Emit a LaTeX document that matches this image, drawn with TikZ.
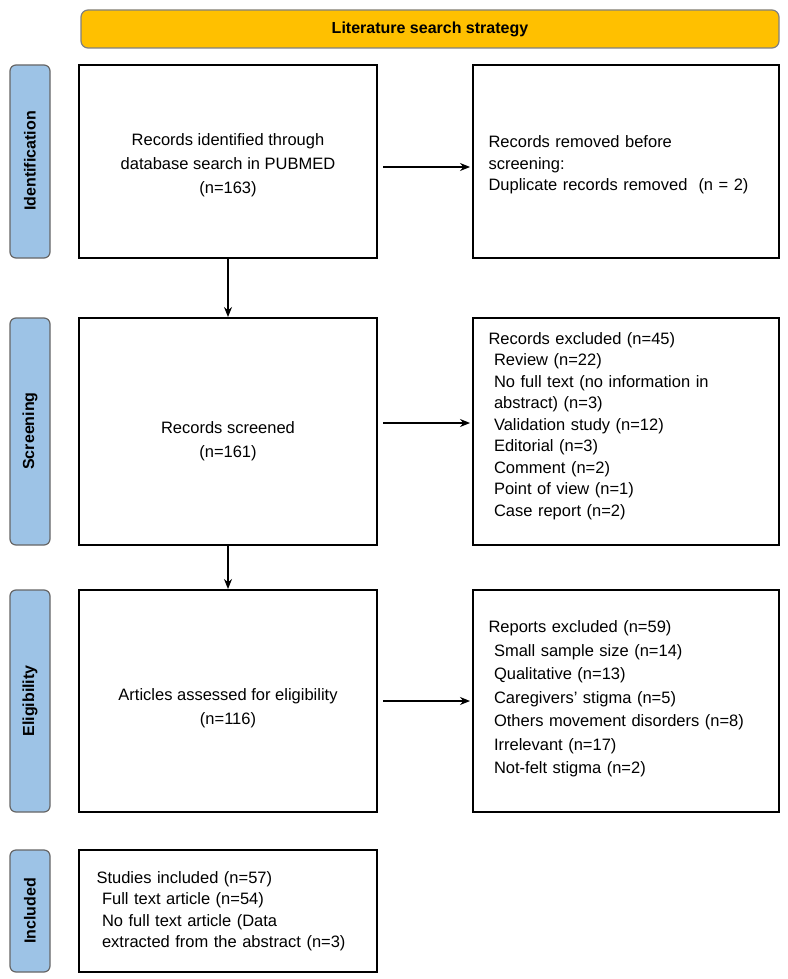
\documentclass[tikz,border=0pt]{standalone}
\usepackage{fontspec}
\setmainfont{Liberation Sans}
\usetikzlibrary{arrows.meta}
\definecolor{banner}{HTML}{FFC000}
\definecolor{sidebl}{HTML}{9DC3E6}
\tikzset{
  box/.style={draw, line width=1.2pt, fill=white, inner sep=0pt},
  side/.style={draw=black!60, line width=1.2pt, fill=sidebl, rounded corners=6pt},
  txt/.style={align=center, font=\fontsize{16.5}{24}\selectfont},
  ltxt/.style={align=left, text width=292pt, font=\fontsize{16.5}{21.5}\selectfont, anchor=west},
  lab/.style={rotate=90, font=\fontsize{16}{19}\selectfont\bfseries},
  arr/.style={-{Stealth[length=10pt,width=8pt]}, line width=1.2pt}
}
\begin{document}
\begin{tikzpicture}[x=1pt,y=-1pt]
 \useasboundingbox (0,0) rectangle (787,979);
 % banner
 \draw[line width=1.2pt, fill=banner, draw=black!50, rounded corners=7pt] (81,10) rectangle (779,48);
 \node[font=\fontsize{16}{19}\selectfont\bfseries] (title) at (430,29) {Literature search strategy};
 % side labels
 \draw[side] (10,65) rectangle (50,258);
 \node[lab] (ident) at (30,161) {Identification};
 \draw[side] (10,318) rectangle (50,545);
 \node[lab] (scr) at (30,431) {Screening};
 \draw[side] (10,590) rectangle (50,812);
 \node[lab] (elig) at (30,701) {Eligibility};
 \draw[side] (10,850) rectangle (50,972);
 \node[lab] (incl) at (30,911) {Included};
 % left boxes
 \draw[box] (79,65) rectangle (377,258);
 \node[txt] (rec) at (228,165) {Records identified through\\database search in PUBMED\\(n=163)};
 \draw[box] (79,318) rectangle (377,545);
 \node[txt] (scrd) at (228,441) {Records screened\\(n=161)};
 \draw[box] (79,590) rectangle (377,812);
 \node[txt] (art) at (228,708) {Articles assessed for eligibility\\(n=116)};
 \draw[box] (79,850) rectangle (377,972);
 \node[ltxt, text width=295pt] (stud) at (93,911) {Studies included (n=57)\\
  \ Full text article (n=54)\\
  \ No full text article (Data\\
  \ extracted from the abstract (n=3)};
 % right boxes
 \draw[box] (473,65) rectangle (779,258);
 \node[ltxt] (remv) at (485,165) {Records removed before\\screening:\\Duplicate records removed \ (n = 2)};
 \draw[box] (473,318) rectangle (779,545);
 \node[ltxt] (excl) at (485,426) {Records excluded (n=45)\\
  \ Review (n=22)\\
  \ No full text (no information in\\
  \ abstract) (n=3)\\
  \ Validation study (n=12)\\
  \ Editorial (n=3)\\
  \ Comment (n=2)\\
  \ Point of view (n=1)\\
  \ Case report (n=2)};
 \draw[box] (473,590) rectangle (779,812);
 \node[ltxt, font=\fontsize{16.5}{23.5}\selectfont] (rep) at (485,699) {Reports excluded (n=59)\\
  \ Small sample size (n=14)\\
  \ Qualitative (n=13)\\
  \ Caregivers’ stigma (n=5)\\
  \ Others movement disorders (n=8)\\
  \ Irrelevant (n=17)\\
  \ Not-felt stigma (n=2)};
 % connectors
 \coordinate (a1) at (383,167); \coordinate (b1) at (470,167);
 \coordinate (a2) at (383,423); \coordinate (b2) at (470,423);
 \coordinate (a3) at (383,701); \coordinate (b3) at (470,701);
 \coordinate (v1) at (228,258); \coordinate (w1) at (228,317);
 \coordinate (v2) at (228,545); \coordinate (w2) at (228,589);
 \draw[arr] (a1) -- (b1);
 \draw[arr] (a2) -- (b2);
 \draw[arr] (a3) -- (b3);
 \draw[arr] (v1) -- (w1);
 \draw[arr] (v2) -- (w2);
\end{tikzpicture}
\end{document}
